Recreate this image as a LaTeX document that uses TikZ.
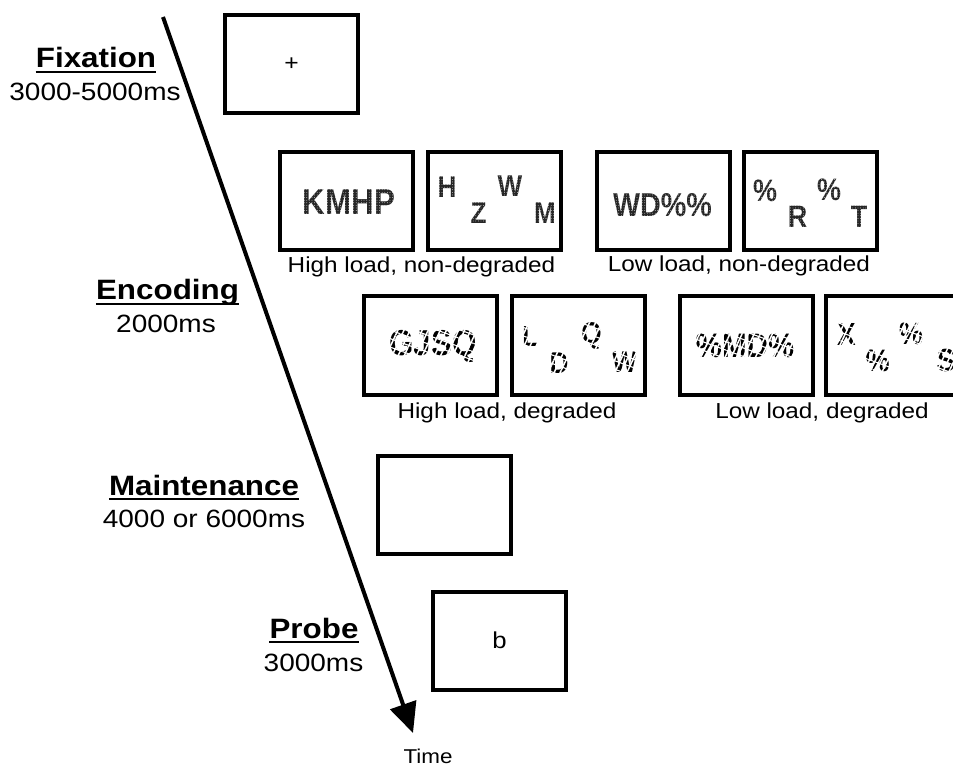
\documentclass[tikz,border=0pt]{standalone}
\usepackage{fontspec}
\setmainfont[FakeStretch=1.12]{Liberation Sans}
\newfontfamily\stimfont[FakeStretch=0.87]{Liberation Sans}
\usetikzlibrary{arrows.meta,patterns.meta}
\newcommand\breakup[1]{%
  \fill[pattern={Lines[angle=65,distance=5.5pt,line width=1.5pt]},pattern color=white]
    ([shift={(-2pt,-2pt)}]#1.south west) rectangle ([shift={(2pt,2pt)}]#1.north east);
  \fill[pattern={Lines[angle=-20,distance=8pt,line width=1.1pt]},pattern color=white]
    ([shift={(-2pt,-2pt)}]#1.south west) rectangle ([shift={(2pt,2pt)}]#1.north east);}
\newcommand\speckle[1]{%
  \fill[pattern={Dots[distance=2.6pt,radius=0.4pt]},pattern color=white]
    (#1.south west) rectangle (#1.north east);}
\begin{document}
\begin{tikzpicture}[x=1pt,y=-1pt,
  scr/.style={draw, line width=4pt, minimum width=133pt, minimum height=98pt, inner sep=0pt},
  phase/.style={font=\fontsize{28}{30}\selectfont\bfseries, inner sep=0pt, anchor=base},
  dur/.style={font=\fontsize{25}{27}\selectfont, inner sep=0pt, anchor=base},
  cond/.style={font=\fontsize{21.7}{24}\selectfont, inner sep=0pt, anchor=base},
  ul/.style={line width=2pt},
  stim/.style={inner sep=0pt, text=black!85, font=\stimfont\bfseries\fontsize{#1}{#1}\selectfont},
  degr/.style={inner sep=0pt, text=black, font=\stimfont\bfseries\fontsize{#1}{#1}\selectfont},
  timeline/.style={line width=4pt, -{Triangle[length=30pt,width=27pt]}}
]
\useasboundingbox (0,0) rectangle (953,767);
\clip (0,0) rectangle (953,767);

% time arrow
\coordinate (tstart) at (163,17);
\coordinate (tend) at (413,733);
\draw[timeline] (tstart) -- (tend);
\node[font=\fontsize{20}{22}\selectfont, inner sep=0pt, anchor=base] (time) at (428,763) {Time};

% phase labels
\node[phase] (fix) at (96,68) {Fixation};
\draw[ul] ([yshift=-4pt]fix.base west) -- ([yshift=-4pt]fix.base east);
\node[dur] (fixd) at (95,101) {3000-5000ms};

\node[phase] (enc) at (167.5,300) {Encoding};
\draw[ul] ([yshift=-4pt]enc.base west) -- ([yshift=-4pt]enc.base east);
\node[dur] (encd) at (166,333) {2000ms};

\node[phase] (mai) at (204,495) {Maintenance};
\draw[ul] ([yshift=-4pt]mai.base west) -- ([yshift=-4pt]mai.base east);
\node[dur] (maid) at (204,527) {4000 or 6000ms};

\node[phase] (pro) at (314,638) {Probe};
\draw[ul] ([yshift=-4pt]pro.base west) -- ([yshift=-4pt]pro.base east);
\node[dur] (prod) at (313.5,671) {3000ms};

% screens
\node[scr] (fixbox) at (291.5,64.5) {\fontsize{22}{22}\selectfont +};
\node[scr] (b1) at (346.5,201) {};
\node[scr] (b2) at (494,201) {};
\node[scr] (b3) at (663.5,201) {};
\node[scr] (b4) at (810,201) {};
\node[scr] (c1) at (430.5,345.5) {};
\node[scr] (c2) at (578,345.5) {};
\node[scr] (c3) at (746,345.5) {};
\node[scr] (c4) at (892.5,345.5) {};
\node[scr] (maibox) at (444.5,505) {};
\node[scr] (probox) at (499.5,640.5) {\fontsize{23}{23}\selectfont b};

% condition labels
\node[cond] (l1) at (421.5,273) {High load, non-degraded};
\node[cond] (l2) at (739,272) {Low load, non-degraded};
\node[cond] (l3) at (507,418) {High load, degraded};
\node[cond] (l4) at (822,418) {Low load, degraded};

% non-degraded stimuli
\node[stim=36] (s1) at (349,202) {KMHP};
\node[stim=30] (s2a) at (447,187.5) {H};
\node[stim=30] (s2b) at (478.5,213) {Z};
\node[stim=30] (s2c) at (510,186.5) {W};
\node[stim=30] (s2d) at (545,213) {M};
\node[stim=33] (s3) at (662.5,205) {WD\%\%};
\node[stim=31] (s4a) at (765,190.5) {\%};
\node[stim=31] (s4b) at (797.5,216.5) {R};
\node[stim=31] (s4c) at (829,190) {\%};
\node[stim=31] (s4d) at (859,216.5) {T};
\foreach \n in {s1,s2a,s2b,s2c,s2d,s3,s4a,s4b,s4c,s4d} {\speckle{\n}}

% degraded stimuli
\node[degr=36] (d1) at (433,346) {GJSQ};
\node[degr=29] (d2a) at (530,337) {L};
\node[degr=30] (d2b) at (559,363) {D};
\node[degr=30] (d2c) at (591.5,335.5) {Q};
\node[degr=30] (d2d) at (624.5,362) {W};
\node[degr=34] (d3) at (745,345.5) {\%MD\%};
\node[degr=32] (d4a) at (846.5,334.5) {X};
\node[degr=31] (d4b) at (877.5,360.5) {\%};
\node[degr=31] (d4c) at (911,333.5) {\%};
\node[degr=32] (d4d) at (946,360.5) {S};
\foreach \n in {d1,d2a,d2b,d2c,d2d,d3,d4a,d4b,d4c,d4d} {\breakup{\n}}
\end{tikzpicture}
\end{document}
